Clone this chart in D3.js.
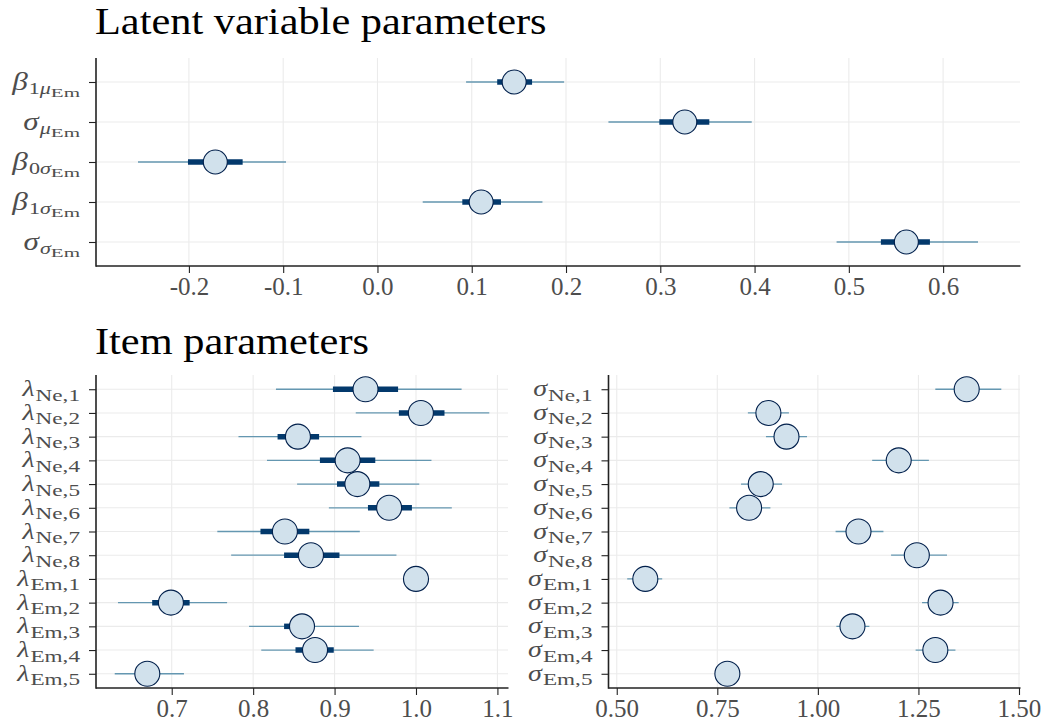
<!DOCTYPE html>
<html>
<head>
<meta charset="utf-8">
<script src="https://cdn.jsdelivr.net/npm/d3@7"></script>
<style>
  html, body { margin: 0; padding: 0; background: #fff; }
  svg { display: block; }
  text { font-family: "Liberation Serif", "DejaVu Serif", serif; }
</style>
</head>
<body>
<svg id="chart" width="1046" height="721"></svg>
<script>
// ---------- DATA ----------
// Latent variable parameters
const topCats     = ["β|1μ|Em", "σ|μ|Em", "β|0σ|Em", "β|1σ|Em", "σ|σ|Em"];
const topPoint    = [0.145, 0.326, -0.172, 0.110, 0.561];
const topInnerLo  = [0.127, 0.299, -0.201, 0.090, 0.534];
const topInnerHi  = [0.164, 0.352, -0.143, 0.131, 0.586];
const topOuterLo  = [0.094, 0.245, -0.254, 0.048, 0.487];
const topOuterHi  = [0.198, 0.397, -0.097, 0.175, 0.637];
const topTicks    = [-0.2, -0.1, 0.0, 0.1, 0.2, 0.3, 0.4, 0.5, 0.6];

// Item parameters: loadings
const lamCats    = ["λ|Ne,1", "λ|Ne,2", "λ|Ne,3", "λ|Ne,4", "λ|Ne,5", "λ|Ne,6", "λ|Ne,7", "λ|Ne,8",
                    "λ|Em,1", "λ|Em,2", "λ|Em,3", "λ|Em,4", "λ|Em,5"];
const lamPoint   = [0.938, 1.006, 0.855, 0.916, 0.928, 0.967, 0.839, 0.871, 1.000, 0.699, 0.860, 0.876, 0.670];
const lamInnerLo = [0.898, 0.979, 0.830, 0.882, 0.903, 0.941, 0.809, 0.838, 1.000, 0.676, 0.838, 0.852, 0.660];
const lamInnerHi = [0.978, 1.035, 0.881, 0.950, 0.955, 0.995, 0.869, 0.906, 1.000, 0.722, 0.872, 0.899, 0.681];
const lamOuterLo = [0.828, 0.926, 0.782, 0.817, 0.854, 0.893, 0.756, 0.773, 1.000, 0.634, 0.795, 0.810, 0.630];
const lamOuterHi = [1.056, 1.090, 0.933, 1.019, 1.004, 1.044, 0.931, 0.976, 1.000, 0.768, 0.930, 0.948, 0.715];
const lamTicks   = [0.7, 0.8, 0.9, 1.0, 1.1];

// Item parameters: residual SDs
const sigCats    = ["σ|Ne,1", "σ|Ne,2", "σ|Ne,3", "σ|Ne,4", "σ|Ne,5", "σ|Ne,6", "σ|Ne,7", "σ|Ne,8",
                    "σ|Em,1", "σ|Em,2", "σ|Em,3", "σ|Em,4", "σ|Em,5"];
const sigPoint   = [1.370, 0.877, 0.922, 1.201, 0.858, 0.829, 1.101, 1.246, 0.571, 1.305, 1.086, 1.292, 0.775];
const sigInnerLo = [1.348, 0.862, 0.906, 1.180, 0.842, 0.813, 1.083, 1.226, 0.558, 1.291, 1.073, 1.278, 0.765];
const sigInnerHi = [1.393, 0.892, 0.938, 1.222, 0.874, 0.845, 1.119, 1.266, 0.584, 1.319, 1.099, 1.306, 0.786];
const sigOuterLo = [1.292, 0.826, 0.871, 1.135, 0.809, 0.780, 1.044, 1.182, 0.526, 1.259, 1.046, 1.243, 0.752];
const sigOuterHi = [1.456, 0.928, 0.973, 1.276, 0.911, 0.882, 1.163, 1.321, 0.613, 1.350, 1.128, 1.342, 0.798];
const sigTicks   = [0.50, 0.75, 1.00, 1.25, 1.50];

// ---------- STYLE ----------
const C = {
  grid: "#ebebeb", axis: "#222", tickText: "#4d4d4d",
  outer: "#6497b1", inner: "#03396c", fill: "#d1e1ec", stroke: "#011f4b"
};

const svg = d3.select("#chart");

function rows(cats, point, iLo, iHi, oLo, oHi) {
  return cats.map((c, i) => ({ cat: c, point: point[i], iLo: iLo[i], iHi: iHi[i], oLo: oLo[i], oHi: oHi[i] }));
}

// math-like label: levels = [{size, sx, dy}] for symbol, subscript, sub-subscript
function drawLabel(g, spec, xRight, yBase, levels) {
  const parts = spec.split("|");
  const lg = g.append("g");
  const isGreek = ch => /[\u0370-\u03ff]/.test(ch);
  let cursor = 0;
  parts.forEach((str, lev) => {
    if (!str) return;
    const L = levels[lev];
    const runs = [];
    for (const ch of str) {
      const gk = isGreek(ch);
      if (runs.length && runs[runs.length - 1].gk === gk) runs[runs.length - 1].t += ch;
      else runs.push({ t: ch, gk });
    }
    runs.forEach(r => {
      const t = lg.append("text")
        .attr("font-size", L.size)
        .attr("font-style", r.gk ? "italic" : "normal")
        .attr("fill", C.tickText)
        .attr("transform", `translate(${cursor},${L.dy}) scale(${L.sx},1)`)
        .text(r.t);
      cursor += t.node().getComputedTextLength() * L.sx + (L.gap || 0);
    });
  });
  lg.attr("transform", `translate(${xRight - cursor},${yBase})`);
}

const fmtMinus = f => d => f(d).replace("\u2212", "-");

function panel(opts) {
  const { data, ticks, x0, x1, y0, y1, fmt, levels, labelDy, radius } = opts;
  const g = svg.append("g");
  const lo = d3.min(data, d => d.oLo), hi = d3.max(data, d => d.oHi);
  const w = hi - lo;
  const x = d3.scaleLinear().domain([lo - 0.05 * w, hi + 0.05 * w]).range([x0, x1]);
  const y = d3.scalePoint().domain(data.map(d => d.cat)).range([y0, y1]).padding(0.6);

  // grid
  g.selectAll(".vg").data(ticks).enter().append("line")
    .attr("x1", d => x(d)).attr("x2", d => x(d)).attr("y1", y0).attr("y2", y1)
    .attr("stroke", C.grid).attr("stroke-width", 1.1);
  g.selectAll(".hg").data(data).enter().append("line")
    .attr("x1", x0).attr("x2", x1).attr("y1", d => y(d.cat)).attr("y2", d => y(d.cat))
    .attr("stroke", C.grid).attr("stroke-width", 1.1);

  // x axis
  const xa = g.append("g").attr("transform", `translate(0,${y1})`)
    .call(d3.axisBottom(x).tickValues(ticks).tickFormat(fmt).tickSize(7).tickSizeOuter(0));
  xa.select(".domain").remove();
  xa.selectAll(".tick line").attr("stroke", C.axis).attr("stroke-width", 1.1);
  xa.selectAll(".tick text").attr("fill", C.tickText).attr("font-size", 25)
    .attr("font-family", "Liberation Serif, serif").attr("dy", "0.71em").attr("y", 11);
  g.append("line").attr("x1", x0).attr("x2", x1 + 0.5).attr("y1", y1).attr("y2", y1)
    .attr("stroke", C.axis).attr("stroke-width", 1.6);

  // y axis
  const ya = g.append("g").attr("transform", `translate(${x0},0)`)
    .call(d3.axisLeft(y).tickSize(7).tickFormat(""));
  ya.select(".domain").remove();
  ya.selectAll(".tick line").attr("stroke", C.axis).attr("stroke-width", 1.1);
  g.append("line").attr("x1", x0).attr("x2", x0).attr("y1", y0).attr("y2", y1 + 0.8)
    .attr("stroke", C.axis).attr("stroke-width", 1.6);
  const lg = g.append("g");
  data.forEach(d => drawLabel(lg, d.cat, x0 - 16, y(d.cat) + labelDy, levels));

  // intervals
  g.selectAll(".outer").data(data).enter().append("line")
    .attr("x1", d => x(d.oLo)).attr("x2", d => x(d.oHi))
    .attr("y1", d => y(d.cat)).attr("y2", d => y(d.cat))
    .attr("stroke", C.outer).attr("stroke-width", 1.3);
  g.selectAll(".inner").data(data).enter().append("line")
    .attr("x1", d => x(d.iLo)).attr("x2", d => x(d.iHi))
    .attr("y1", d => y(d.cat)).attr("y2", d => y(d.cat))
    .attr("stroke", C.inner).attr("stroke-width", 5.5);
  g.selectAll(".pt").data(data).enter().append("circle")
    .attr("cx", d => x(d.point)).attr("cy", d => y(d.cat)).attr("r", radius)
    .attr("fill", C.fill).attr("stroke", C.stroke).attr("stroke-width", 1.1);
}

// titles
svg.append("text").attr("transform", "translate(95,34) scale(1.145,1)")
  .attr("font-size", 37).attr("fill", "#000").text("Latent variable parameters");
svg.append("text").attr("transform", "translate(95,354) scale(1.145,1)")
  .attr("font-size", 37).attr("fill", "#000").text("Item parameters");

panel({
  data: rows(topCats, topPoint, topInnerLo, topInnerHi, topOuterLo, topOuterHi),
  ticks: topTicks, x0: 96, x1: 1020, y0: 58, y1: 266, fmt: fmtMinus(d3.format(".1f")),
  levels: [{ size: 26, sx: 1.2, dy: 0, gap: 1 }, { size: 17, sx: 1.3, dy: 4 }, { size: 12, sx: 1.75, dy: 7 }],
  labelDy: 8, radius: 12
});
panel({
  data: rows(lamCats, lamPoint, lamInnerLo, lamInnerHi, lamOuterLo, lamOuterHi),
  ticks: lamTicks, x0: 96, x1: 508, y0: 375, y1: 688, fmt: fmtMinus(d3.format(".1f")),
  levels: [{ size: 23, sx: 1.22, dy: 0, gap: 1 }, { size: 16, sx: 1.45, dy: 4.5 }],
  labelDy: 7, radius: 12.5
});
panel({
  data: rows(sigCats, sigPoint, sigInnerLo, sigInnerHi, sigOuterLo, sigOuterHi),
  ticks: sigTicks, x0: 608.5, x1: 1020, y0: 375, y1: 688, fmt: fmtMinus(d3.format(".2f")),
  levels: [{ size: 23, sx: 1.22, dy: 0, gap: 1 }, { size: 16, sx: 1.45, dy: 4.5 }],
  labelDy: 7, radius: 12.5
});
</script>
</body>
</html>
